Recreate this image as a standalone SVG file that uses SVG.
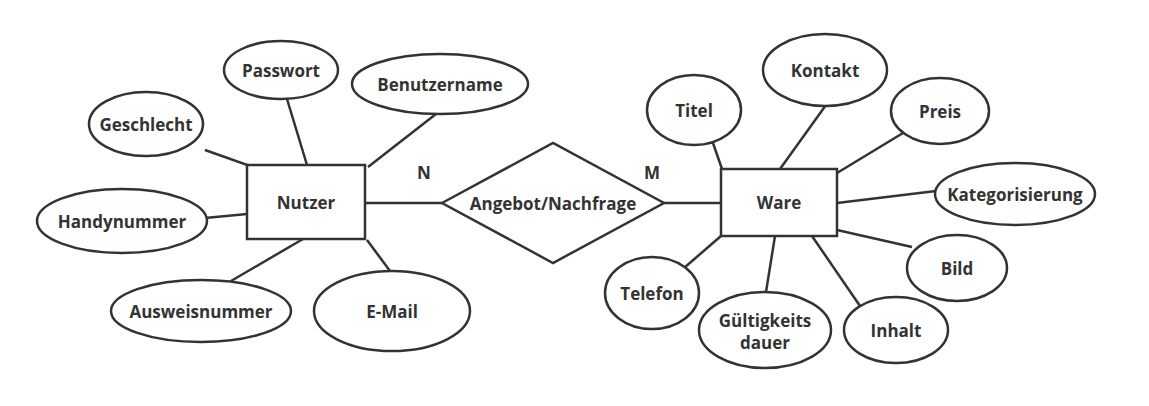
<svg xmlns="http://www.w3.org/2000/svg" width="1149" height="406" viewBox="0 0 1149 406">
<style>
.s{fill:#fff;stroke:#333;stroke-width:2.5}
.l{stroke:#333;stroke-width:2.5;fill:none}
text{font-family:"Open Sans","Liberation Sans",sans-serif;font-weight:bold;font-size:17px;fill:#333;text-anchor:middle;dominant-baseline:central}
</style>
<rect width="1149" height="406" fill="#fff"/>
<g id="connectors">
<line class="l" x1="287" y1="99" x2="307" y2="165"/>
<line class="l" x1="436" y1="114" x2="368" y2="167"/>
<line class="l" x1="205" y1="150" x2="256" y2="168"/>
<line class="l" x1="205" y1="218" x2="247" y2="214"/>
<line class="l" x1="231" y1="281" x2="303" y2="239"/>
<line class="l" x1="390" y1="271" x2="367" y2="240"/>
<line class="l" x1="365" y1="203" x2="442" y2="203"/>
<line class="l" x1="664" y1="203" x2="721" y2="203"/>
<line class="l" x1="713" y1="143" x2="722" y2="169"/>
<line class="l" x1="826" y1="105" x2="780" y2="169"/>
<line class="l" x1="903" y1="133" x2="837" y2="173"/>
<line class="l" x1="936" y1="191" x2="837" y2="203"/>
<line class="l" x1="912" y1="247" x2="837" y2="230"/>
<line class="l" x1="860" y1="306" x2="812" y2="236"/>
<line class="l" x1="766" y1="292" x2="775" y2="236"/>
<line class="l" x1="684" y1="268" x2="721" y2="236"/>
</g>
<text x="424" y="172">N</text>
<text x="652" y="172">M</text>
<g id="nutzer"><rect class="s" x="247" y="165" width="118" height="74"/><text x="306" y="202">Nutzer</text></g>
<g id="ware"><rect class="s" x="721" y="169" width="116" height="67"/><text x="779" y="202">Ware</text></g>
<g id="angebot"><polygon class="s" points="442,203 553,143 664,203 553,263"/><text x="553" y="203">Angebot/Nachfrage</text></g>
<g id="passwort"><ellipse class="s" cx="281" cy="70" rx="57" ry="29"/><text x="281" y="70">Passwort</text></g>
<g id="benutzername"><ellipse class="s" cx="440" cy="84" rx="88" ry="30"/><text x="440" y="84">Benutzername</text></g>
<g id="geschlecht"><ellipse class="s" cx="146" cy="124" rx="57" ry="32"/><text x="146" y="124">Geschlecht</text></g>
<g id="handynummer"><ellipse class="s" cx="122" cy="221" rx="85" ry="32"/><text x="122" y="221">Handynummer</text></g>
<g id="ausweisnummer"><ellipse class="s" cx="201" cy="311" rx="90" ry="31"/><text x="201" y="311">Ausweisnummer</text></g>
<g id="email"><ellipse class="s" cx="392" cy="311" rx="78" ry="40"/><text x="392" y="311">E-Mail</text></g>
<g id="titel"><ellipse class="s" cx="694" cy="110" rx="47" ry="35"/><text x="694" y="110">Titel</text></g>
<g id="kontakt"><ellipse class="s" cx="825" cy="70" rx="62" ry="36"/><text x="825" y="70">Kontakt</text></g>
<g id="preis"><ellipse class="s" cx="940" cy="111" rx="49" ry="33"/><text x="940" y="111">Preis</text></g>
<g id="kategorisierung"><ellipse class="s" cx="1015" cy="194" rx="80" ry="31"/><text x="1015" y="194">Kategorisierung</text></g>
<g id="bild"><ellipse class="s" cx="957" cy="268" rx="50" ry="33"/><text x="957" y="268">Bild</text></g>
<g id="inhalt"><ellipse class="s" cx="896" cy="330" rx="52" ry="33"/><text x="896" y="330">Inhalt</text></g>
<g id="gueltigkeit"><ellipse class="s" cx="765" cy="330" rx="66" ry="38"/><text x="765" y="320">Gültigkeits</text><text x="765" y="342">dauer</text></g>
<g id="telefon"><ellipse class="s" cx="652" cy="293" rx="47" ry="36"/><text x="652" y="293">Telefon</text></g>
</svg>
